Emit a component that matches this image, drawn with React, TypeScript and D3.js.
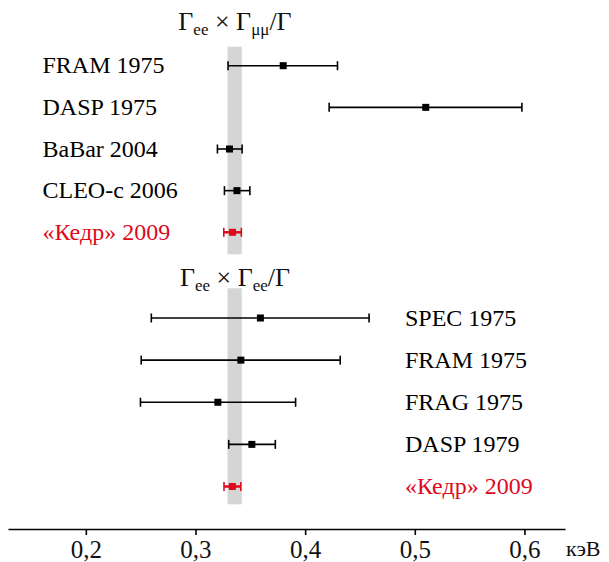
import React, { useRef, useEffect } from 'react';
import * as d3 from 'd3';

// top panel: Gee x Gmumu / G
const topNames = ['FRAM 1975', 'DASP 1975', 'BaBar 2004', 'CLEO-c 2006', '«Кедр» 2009'];
const topValues = [0.38, 0.51, 0.331, 0.3378, 0.3338];
const topLow = [0.3297, 0.4219, 0.32, 0.3264, 0.3258];
const topHigh = [0.4295, 0.5977, 0.3425, 0.3496, 0.3418];

// bottom panel: Gee x Gee / G
const bottomNames = ['SPEC 1975', 'FRAM 1975', 'FRAG 1975', 'DASP 1979', '«Кедр» 2009'];
const bottomValues = [0.3592, 0.3414, 0.3204, 0.3514, 0.3336];
const bottomLow = [0.2597, 0.2505, 0.2498, 0.3303, 0.326];
const bottomHigh = [0.4583, 0.432, 0.3913, 0.3728, 0.3413];

// grey band = Kedr average
const bandLow = 0.3292;
const bandHigh = 0.3422;

const xTicks = [0.2, 0.3, 0.4, 0.5, 0.6];
const unitLabel = 'кэВ';

const W = 609;
const H = 562;
const RED = '#dd0a1e';
const FONT = '"Liberation Serif", "Times New Roman", serif';

const Panel = ({ names, values, low, high, x, yRange, labelX, anchor }) => {
    const y = d3.scalePoint().domain(names).range(yRange);
    return (
        <g>
            {names.map((n, i) => {
                const cy = y(n);
                const red = i === names.length - 1;
                const c = red ? RED : '#000';
                return (
                    <g key={n}>
                        <line x1={x(low[i])} x2={x(high[i])} y1={cy} y2={cy}
                            stroke={c} strokeWidth={red ? 2.5 : 1.6} />
                        <line x1={x(low[i])} x2={x(low[i])} y1={cy - 4.5} y2={cy + 4.5} stroke={c} strokeWidth={1.6} />
                        <line x1={x(high[i])} x2={x(high[i])} y1={cy - 4.5} y2={cy + 4.5} stroke={c} strokeWidth={1.6} />
                        <rect x={x(values[i]) - 3.5} y={cy - 3.5} width={7} height={7} fill={c} />
                        <text x={labelX} y={cy + 7.5} fontSize={24} fill={c} textAnchor={anchor}
                            fontFamily={FONT}>{n}</text>
                    </g>
                );
            })}
        </g>
    );
};

const Title = ({ cx, y, sub2 }) => (
    <text x={cx} y={y} fontSize={26} fontFamily={FONT} textAnchor="middle" fill="#111">
        Γ<tspan fontSize={17} dy={5}>ee</tspan>
        <tspan dy={-5}> × Γ</tspan>
        <tspan fontSize={17} dy={5}>{sub2}</tspan>
        <tspan dy={-5}>/Γ</tspan>
    </text>
);

export default function App() {
    const axisRef = useRef();

    const x = d3.scaleLinear().domain([0.129, 0.637]).range([8, 565]);
    const axisY = 529;

    useEffect(() => {
        const g = d3.select(axisRef.current);
        g.selectAll('*').remove();
        const axis = d3.axisBottom(x)
            .tickValues(xTicks)
            .tickSizeInner(6)
            .tickSizeOuter(0)
            .tickPadding(5)
            .tickFormat(d => d3.format('.1f')(d).replace('.', ','));
        g.call(axis);
        g.attr('font-family', null).attr('font-size', null);
        g.select('.domain').attr('stroke', '#000').attr('stroke-width', 1.6);
        g.selectAll('.tick line').attr('stroke', '#000').attr('stroke-width', 1.6);
        g.selectAll('.tick text')
            .style('font-size', '25px')
            .style('font-family', FONT)
            .attr('fill', '#111');
    }, []);

    return (
        <svg width={W} height={H} style={{ position: 'absolute', left: 0, top: 0, background: '#fff' }}>
            {/* grey bands */}
            <rect x={x(bandLow)} y={46.7} width={x(bandHigh) - x(bandLow)} height={254.3 - 46.7} fill="#d5d5d5" />
            <rect x={x(bandLow)} y={288.3} width={x(bandHigh) - x(bandLow)} height={504.3 - 288.3} fill="#d5d5d5" />

            <Title cx={235} y={30} sub2="μμ" />
            <Title cx={235} y={286} sub2="ee" />

            <Panel names={topNames} values={topValues} low={topLow} high={topHigh}
                x={x} yRange={[65.7, 232.3]} labelX={42.5} anchor="start" />
            <Panel names={bottomNames} values={bottomValues} low={bottomLow} high={bottomHigh}
                x={x} yRange={[318, 486.5]} labelX={405} anchor="start" />

            <g ref={axisRef} transform={`translate(0, ${axisY})`} />
            <text x={566} y={556} fontSize={22} fontFamily={FONT} fill="#111">{unitLabel}</text>
        </svg>
    );
}
